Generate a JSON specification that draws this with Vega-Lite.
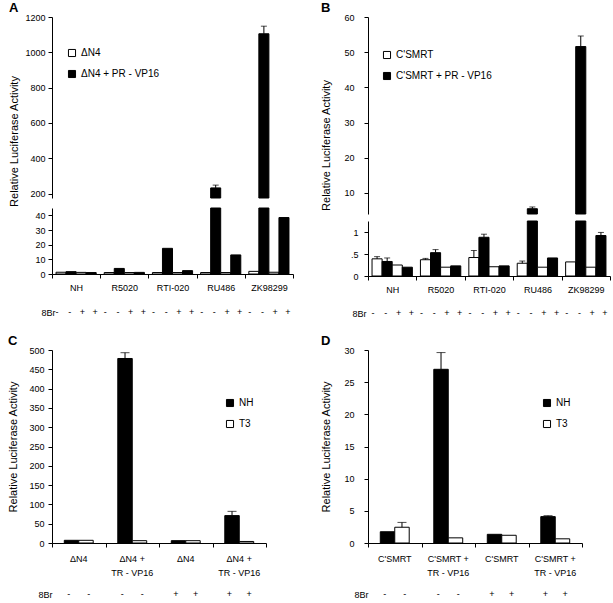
{
  "$schema": "https://vega.github.io/schema/vega-lite/v6.json",
  "padding": {"left": 7, "top": 2, "right": 0, "bottom": 0},
  "config": {
    "font": "Liberation Sans",
    "view": {"stroke": null},
    "axis": {"domainColor": "black", "tickColor": "black", "labelColor": "black", "titleColor": "black", "labelFontSize": 9, "titleFontSize": 11, "titleFontWeight": "normal", "grid": false, "tickSize": 4, "labelPadding": 3, "labelOverlap": false},
    "legend": {"labelFontSize": 10, "symbolType": "square", "symbolSize": 50, "symbolStrokeColor": "black", "symbolStrokeWidth": 1, "rowPadding": 9, "labelColor": "black"},
    "title": {"color": "black", "fontSize": 13, "fontWeight": "bold", "anchor": "start", "frame": "bounds", "offset": -2}
  },
  "datasets": {
    "A": [
      {"group": "NH", "sub": 1, "series": "ΔN4", "br": "-", "value": 1.2},
      {"group": "NH", "sub": 2, "series": "ΔN4 + PR - VP16", "br": "-", "value": 1.6},
      {"group": "NH", "sub": 3, "series": "ΔN4", "br": "+", "value": 1.1},
      {"group": "NH", "sub": 4, "series": "ΔN4 + PR - VP16", "br": "+", "value": 1.0},
      {"group": "R5020", "sub": 1, "series": "ΔN4", "br": "-", "value": 1.0},
      {"group": "R5020", "sub": 2, "series": "ΔN4 + PR - VP16", "br": "-", "value": 3.8},
      {"group": "R5020", "sub": 3, "series": "ΔN4", "br": "+", "value": 1.0},
      {"group": "R5020", "sub": 4, "series": "ΔN4 + PR - VP16", "br": "+", "value": 1.1},
      {"group": "RTI-020", "sub": 1, "series": "ΔN4", "br": "-", "value": 1.0},
      {"group": "RTI-020", "sub": 2, "series": "ΔN4 + PR - VP16", "br": "-", "value": 17.5},
      {"group": "RTI-020", "sub": 3, "series": "ΔN4", "br": "+", "value": 1.0},
      {"group": "RTI-020", "sub": 4, "series": "ΔN4 + PR - VP16", "br": "+", "value": 2.3},
      {"group": "RU486", "sub": 1, "series": "ΔN4", "br": "-", "value": 1.0},
      {"group": "RU486", "sub": 2, "series": "ΔN4 + PR - VP16", "br": "-", "value": 232, "hi": 248},
      {"group": "RU486", "sub": 3, "series": "ΔN4", "br": "+", "value": 1.0},
      {"group": "RU486", "sub": 4, "series": "ΔN4 + PR - VP16", "br": "+", "value": 13},
      {"group": "ZK98299", "sub": 1, "series": "ΔN4", "br": "-", "value": 1.8},
      {"group": "ZK98299", "sub": 2, "series": "ΔN4 + PR - VP16", "br": "-", "value": 1105, "hi": 1148},
      {"group": "ZK98299", "sub": 3, "series": "ΔN4", "br": "+", "value": 1.2},
      {"group": "ZK98299", "sub": 4, "series": "ΔN4 + PR - VP16", "br": "+", "value": 38.5}
    ],
    "B": [
      {"group": "NH", "sub": 1, "series": "C'SMRT", "br": "-", "value": 0.39, "hi": 0.44},
      {"group": "NH", "sub": 2, "series": "C'SMRT + PR - VP16", "br": "-", "value": 0.33, "hi": 0.41},
      {"group": "NH", "sub": 3, "series": "C'SMRT", "br": "+", "value": 0.25},
      {"group": "NH", "sub": 4, "series": "C'SMRT + PR - VP16", "br": "+", "value": 0.2},
      {"group": "R5020", "sub": 1, "series": "C'SMRT", "br": "-", "value": 0.37, "hi": 0.4},
      {"group": "R5020", "sub": 2, "series": "C'SMRT + PR - VP16", "br": "-", "value": 0.53, "hi": 0.6},
      {"group": "R5020", "sub": 3, "series": "C'SMRT", "br": "+", "value": 0.2},
      {"group": "R5020", "sub": 4, "series": "C'SMRT + PR - VP16", "br": "+", "value": 0.23},
      {"group": "RTI-020", "sub": 1, "series": "C'SMRT", "br": "-", "value": 0.42, "hi": 0.58},
      {"group": "RTI-020", "sub": 2, "series": "C'SMRT + PR - VP16", "br": "-", "value": 0.88, "hi": 0.95},
      {"group": "RTI-020", "sub": 3, "series": "C'SMRT", "br": "+", "value": 0.21},
      {"group": "RTI-020", "sub": 4, "series": "C'SMRT + PR - VP16", "br": "+", "value": 0.23},
      {"group": "RU486", "sub": 1, "series": "C'SMRT", "br": "-", "value": 0.29, "hi": 0.34},
      {"group": "RU486", "sub": 2, "series": "C'SMRT + PR - VP16", "br": "-", "value": 5.5, "hi": 6.0},
      {"group": "RU486", "sub": 3, "series": "C'SMRT", "br": "+", "value": 0.2},
      {"group": "RU486", "sub": 4, "series": "C'SMRT + PR - VP16", "br": "+", "value": 0.41},
      {"group": "ZK98299", "sub": 1, "series": "C'SMRT", "br": "-", "value": 0.32},
      {"group": "ZK98299", "sub": 2, "series": "C'SMRT + PR - VP16", "br": "-", "value": 51.6, "hi": 54.6},
      {"group": "ZK98299", "sub": 3, "series": "C'SMRT", "br": "+", "value": 0.2},
      {"group": "ZK98299", "sub": 4, "series": "C'SMRT + PR - VP16", "br": "+", "value": 0.92, "hi": 0.99}
    ],
    "C": [
      {"group": "a", "sub": 1, "series": "NH", "br": "-", "value": 7},
      {"group": "a", "sub": 2, "series": "T3", "br": "-", "value": 7},
      {"group": "b", "sub": 1, "series": "NH", "br": "-", "value": 478, "hi": 493},
      {"group": "b", "sub": 2, "series": "T3", "br": "-", "value": 6},
      {"group": "c", "sub": 1, "series": "NH", "br": "+", "value": 6},
      {"group": "c", "sub": 2, "series": "T3", "br": "+", "value": 6},
      {"group": "d", "sub": 1, "series": "NH", "br": "+", "value": 71, "hi": 82},
      {"group": "d", "sub": 2, "series": "T3", "br": "+", "value": 4}
    ],
    "CL": [
      {"group": "a", "row": "l1", "text": "ΔN4"},
      {"group": "b", "row": "l1", "text": "ΔN4 +"},
      {"group": "b", "row": "l2", "text": "TR - VP16"},
      {"group": "c", "row": "l1", "text": "ΔN4"},
      {"group": "d", "row": "l1", "text": "ΔN4 +"},
      {"group": "d", "row": "l2", "text": "TR - VP16"}
    ],
    "D": [
      {"group": "a", "sub": 1, "series": "NH", "br": "-", "value": 1.75},
      {"group": "a", "sub": 2, "series": "T3", "br": "-", "value": 2.45, "hi": 3.2},
      {"group": "b", "sub": 1, "series": "NH", "br": "-", "value": 27.0, "hi": 29.6},
      {"group": "b", "sub": 2, "series": "T3", "br": "-", "value": 0.8},
      {"group": "c", "sub": 1, "series": "NH", "br": "+", "value": 1.35},
      {"group": "c", "sub": 2, "series": "T3", "br": "+", "value": 1.2},
      {"group": "d", "sub": 1, "series": "NH", "br": "+", "value": 4.1, "hi": 4.25},
      {"group": "d", "sub": 2, "series": "T3", "br": "+", "value": 0.65}
    ],
    "DL": [
      {"group": "a", "row": "l1", "text": "C'SMRT"},
      {"group": "b", "row": "l1", "text": "C'SMRT +"},
      {"group": "b", "row": "l2", "text": "TR - VP16"},
      {"group": "c", "row": "l1", "text": "C'SMRT"},
      {"group": "d", "row": "l1", "text": "C'SMRT +"},
      {"group": "d", "row": "l2", "text": "TR - VP16"}
    ]
  },
  "resolve": {"scale": {"x": "independent", "y": "independent", "color": "independent", "xOffset": "independent"}},
  "spacing": 17,
  "vconcat": [
    {
      "resolve": {"scale": {"x": "independent", "y": "independent", "color": "independent", "xOffset": "independent"}},
      "spacing": 26,
      "hconcat": [
        {
          "resolve": {"scale": {"x": "independent", "y": "independent", "color": "independent", "xOffset": "independent"}},
          "spacing": 15,
          "vconcat": [
            {
              "resolve": {"scale": {"x": "independent", "y": "independent", "color": "independent", "xOffset": "independent"}},
              "spacing": 0,
              "vconcat": [
                {
                  "width": 241, "height": 181,
                  "title": {"text": "A"},
                  "data": {"name": "A"},
                  "transform": [{"filter": "datum.value > 175"}],
                  "encoding": {
                    "x": {"field": "group", "type": "nominal", "sort": null, "scale": {"domain": ["NH", "R5020", "RTI-020", "RU486", "ZK98299"], "paddingInner": 0, "paddingOuter": 0}, "axis": null},
                    "xOffset": {"field": "sub", "type": "nominal", "scale": {"domain": [1, 2, 3, 4], "paddingInner": 0, "paddingOuter": 0.4}},
                    "y": {"field": "value", "type": "quantitative", "scale": {"domain": [175, 1200], "clamp": true, "nice": false, "zero": false}, "axis": {"values": [200, 400, 600, 800, 1000, 1200], "format": "d", "labelOverlap": false, "title": "Relative Luciferase Activity", "titleY": 124, "titlePadding": 5}}
                  },
                  "layer": [
                    {
                      "mark": {"type": "bar", "stroke": "black", "strokeWidth": 1},
                      "encoding": {
                        "color": {"field": "series", "type": "nominal", "scale": {"domain": ["ΔN4", "ΔN4 + PR - VP16"], "range": ["white", "black"]}, "legend": {"orient": "none", "legendX": 15, "legendY": 31, "title": null}}
                      }
                    },
                    {
                      "transform": [{"filter": "datum.hi != null"}],
                      "mark": {"type": "rule", "color": "black", "strokeWidth": 1},
                      "encoding": {"y2": {"field": "hi"}}
                    },
                    {
                      "transform": [{"filter": "datum.hi != null"}],
                      "mark": {"type": "tick", "color": "black", "thickness": 1, "size": 6},
                      "encoding": {"y": {"field": "hi", "type": "quantitative", "scale": {"domain": [175, 1200], "clamp": true, "nice": false, "zero": false}, "axis": {"values": [200, 400, 600, 800, 1000, 1200], "format": "d", "labelOverlap": false, "title": "Relative Luciferase Activity", "titleY": 124, "titlePadding": 5}}}
                    }
                  ]
                },
                {
                  "width": 241, "height": 66,
                  "data": {"name": "A"},
                  "encoding": {
                    "x": {"field": "group", "type": "nominal", "sort": null, "scale": {"domain": ["NH", "R5020", "RTI-020", "RU486", "ZK98299"], "paddingInner": 0, "paddingOuter": 0}, "axis": {"title": null, "labelAngle": 0, "tickBand": "extent", "labelPadding": 5}},
                    "xOffset": {"field": "sub", "type": "nominal", "scale": {"domain": [1, 2, 3, 4], "paddingInner": 0, "paddingOuter": 0.4}}
                  },
                  "layer": [
                    {
                      "mark": {"type": "bar", "stroke": "black", "strokeWidth": 1},
                      "encoding": {
                        "y": {"field": "value", "type": "quantitative", "scale": {"domain": [0, 45], "clamp": true, "nice": false}, "axis": {"values": [0, 10, 20, 30, 40], "labelOverlap": false, "title": null}},
                        "color": {"field": "series", "type": "nominal", "scale": {"domain": ["ΔN4", "ΔN4 + PR - VP16"], "range": ["white", "black"]}, "legend": null}
                      }
                    }
                  ]
                }
              ]
            },
            {
              "width": 241, "height": 10,
              "data": {"name": "A"},
              "mark": {"type": "text", "fontSize": 9, "color": "black"},
              "encoding": {
                "x": {"field": "group", "type": "nominal", "sort": null, "scale": {"type": "band", "domain": ["NH", "R5020", "RTI-020", "RU486", "ZK98299"], "paddingInner": 0, "paddingOuter": 0}, "axis": null},
                "xOffset": {"field": "sub", "type": "nominal", "scale": {"domain": [1, 2, 3, 4], "paddingInner": 0, "paddingOuter": 0.4}},
                "y": {"datum": "8Br", "type": "nominal", "axis": {"title": null, "domain": false, "ticks": false, "labelPadding": -3, "labelFontSize": 9}},
                "text": {"field": "br"}
              }
            }
          ]
        },
        {
          "resolve": {"scale": {"x": "independent", "y": "independent", "color": "independent", "xOffset": "independent"}},
          "spacing": 14,
          "vconcat": [
            {
              "resolve": {"scale": {"x": "independent", "y": "independent", "color": "independent", "xOffset": "independent"}},
              "spacing": 5,
              "vconcat": [
                {
                  "width": 242, "height": 197,
                  "title": {"text": "B"},
                  "data": {"name": "B"},
                  "transform": [{"filter": "datum.value > 4"}],
                  "encoding": {
                    "x": {"field": "group", "type": "nominal", "sort": null, "scale": {"domain": ["NH", "R5020", "RTI-020", "RU486", "ZK98299"], "paddingInner": 0, "paddingOuter": 0}, "axis": null},
                    "xOffset": {"field": "sub", "type": "nominal", "scale": {"domain": [1, 2, 3, 4], "paddingInner": 0, "paddingOuter": 0.4}},
                    "y": {"field": "value", "type": "quantitative", "scale": {"domain": [4, 60], "clamp": true, "nice": false, "zero": false}, "axis": {"values": [10, 20, 30, 40, 50, 60], "labelOverlap": false, "title": "Relative Luciferase Activity", "titleY": 128, "labelPadding": 10, "titlePadding": 12}}
                  },
                  "layer": [
                    {
                      "mark": {"type": "bar", "stroke": "black", "strokeWidth": 1},
                      "encoding": {
                        "color": {"field": "series", "type": "nominal", "scale": {"domain": ["C'SMRT", "C'SMRT + PR - VP16"], "range": ["white", "black"]}, "legend": {"orient": "none", "legendX": 14, "legendY": 33, "title": null}}
                      }
                    },
                    {
                      "transform": [{"filter": "datum.hi != null"}],
                      "mark": {"type": "rule", "color": "black", "strokeWidth": 1},
                      "encoding": {"y2": {"field": "hi"}}
                    },
                    {
                      "transform": [{"filter": "datum.hi != null"}],
                      "mark": {"type": "tick", "color": "black", "thickness": 1, "size": 6},
                      "encoding": {"y": {"field": "hi", "type": "quantitative", "scale": {"domain": [4, 60], "clamp": true, "nice": false, "zero": false}, "axis": {"values": [10, 20, 30, 40, 50, 60], "labelOverlap": false, "title": "Relative Luciferase Activity", "titleY": 128, "labelPadding": 10, "titlePadding": 12}}}
                    }
                  ]
                },
                {
                  "width": 242, "height": 55,
                  "data": {"name": "B"},
                  "encoding": {
                    "x": {"field": "group", "type": "nominal", "sort": null, "scale": {"domain": ["NH", "R5020", "RTI-020", "RU486", "ZK98299"], "paddingInner": 0, "paddingOuter": 0}, "axis": {"title": null, "labelAngle": 0, "tickBand": "extent", "labelPadding": 5}},
                    "xOffset": {"field": "sub", "type": "nominal", "scale": {"domain": [1, 2, 3, 4], "paddingInner": 0, "paddingOuter": 0.4}},
                    "y": {"field": "value", "type": "quantitative", "scale": {"domain": [0, 1.25], "clamp": true, "nice": false}, "axis": {"values": [0, 0.5, 1], "labelOverlap": false, "title": null, "labelExpr": "datum.value == 0.5 ? '.5' : toString(datum.value)", "labelPadding": 6}}
                  },
                  "layer": [
                    {
                      "mark": {"type": "bar", "stroke": "black", "strokeWidth": 1},
                      "encoding": {
                        "color": {"field": "series", "type": "nominal", "scale": {"domain": ["C'SMRT", "C'SMRT + PR - VP16"], "range": ["white", "black"]}, "legend": null}
                      }
                    },
                    {
                      "transform": [{"filter": "datum.hi != null && datum.hi < 1.25"}],
                      "mark": {"type": "rule", "color": "black", "strokeWidth": 1},
                      "encoding": {"y2": {"field": "hi"}}
                    },
                    {
                      "transform": [{"filter": "datum.hi != null && datum.hi < 1.25"}],
                      "mark": {"type": "tick", "color": "black", "thickness": 1, "size": 6},
                      "encoding": {"y": {"field": "hi", "type": "quantitative", "scale": {"domain": [0, 1.25], "clamp": true, "nice": false}, "axis": {"values": [0, 0.5, 1], "labelOverlap": false, "title": null, "labelExpr": "datum.value == 0.5 ? '.5' : toString(datum.value)", "labelPadding": 6}}}
                    }
                  ]
                }
              ]
            },
            {
              "width": 242, "height": 10,
              "data": {"name": "B"},
              "mark": {"type": "text", "fontSize": 9, "color": "black"},
              "encoding": {
                "x": {"field": "group", "type": "nominal", "sort": null, "scale": {"type": "band", "domain": ["NH", "R5020", "RTI-020", "RU486", "ZK98299"], "paddingInner": 0, "paddingOuter": 0}, "axis": null},
                "xOffset": {"field": "sub", "type": "nominal", "scale": {"domain": [1, 2, 3, 4], "paddingInner": 0, "paddingOuter": 0.4}},
                "y": {"datum": "8Br", "type": "nominal", "axis": {"title": null, "domain": false, "ticks": false, "labelPadding": 2, "labelFontSize": 9}},
                "text": {"field": "br"}
              }
            }
          ]
        }
      ]
    },
    {
      "resolve": {"scale": {"x": "independent", "y": "independent", "color": "independent", "xOffset": "independent"}},
      "spacing": 53,
      "hconcat": [
        {
          "resolve": {"scale": {"x": "independent", "y": "independent", "color": "independent", "xOffset": "independent"}},
          "spacing": 6,
          "vconcat": [
            {
              "width": 214, "height": 193,
              "title": {"text": "C"},
              "data": {"name": "C"},
              "encoding": {
                "x": {"field": "group", "type": "nominal", "sort": null, "scale": {"domain": ["a", "b", "c", "d"], "paddingInner": 0, "paddingOuter": 0}, "axis": {"title": null, "labels": false, "tickBand": "extent"}},
                "xOffset": {"field": "sub", "type": "nominal", "scale": {"domain": [1, 2], "paddingInner": 0, "paddingOuter": 0.85}},
                "y": {"field": "value", "type": "quantitative", "scale": {"domain": [0, 500], "nice": false}, "axis": {"values": [0, 50, 100, 150, 200, 250, 300, 350, 400, 450, 500], "labelOverlap": false, "title": "Relative Luciferase Activity", "titlePadding": 10, "labelPadding": 4}}
              },
              "layer": [
                {
                  "mark": {"type": "bar", "stroke": "black", "strokeWidth": 1},
                  "encoding": {
                    "color": {"field": "series", "type": "nominal", "scale": {"domain": ["NH", "T3"], "range": ["black", "white"]}, "legend": {"orient": "none", "legendX": 173, "legendY": 48, "title": null}}
                  }
                },
                {
                  "transform": [{"filter": "datum.hi != null"}],
                  "mark": {"type": "rule", "color": "black", "strokeWidth": 1},
                  "encoding": {"y2": {"field": "hi"}}
                },
                {
                  "transform": [{"filter": "datum.hi != null"}],
                  "mark": {"type": "tick", "color": "black", "thickness": 1, "size": 9},
                  "encoding": {"y": {"field": "hi", "type": "quantitative", "scale": {"domain": [0, 500], "nice": false}, "axis": {"values": [0, 50, 100, 150, 200, 250, 300, 350, 400, 450, 500], "labelOverlap": false, "title": "Relative Luciferase Activity", "titlePadding": 10, "labelPadding": 4}}}
                }
              ]
            },
            {
              "width": 214, "height": 43,
              "layer": [
                {
                  "data": {"name": "CL"},
                  "mark": {"type": "text", "fontSize": 9, "color": "black"},
                  "encoding": {
                    "x": {"field": "group", "type": "nominal", "sort": null, "scale": {"type": "band", "domain": ["a", "b", "c", "d"], "paddingInner": 0, "paddingOuter": 0}, "axis": null},
                    "y": {"field": "row", "type": "nominal", "scale": {"domain": ["l1", "s1", "l2", "s2", "s3", "8Br"]}, "axis": {"title": null, "domain": false, "ticks": false, "labelPadding": 0, "labelFontSize": 9, "labelOverlap": false, "labelExpr": "datum.value == '8Br' ? '8Br' : ''"}},
                    "text": {"field": "text"}
                  }
                },
                {
                  "data": {"name": "C"},
                  "mark": {"type": "text", "fontSize": 9, "color": "black"},
                  "encoding": {
                    "x": {"field": "group", "type": "nominal", "sort": null, "scale": {"type": "band", "domain": ["a", "b", "c", "d"], "paddingInner": 0, "paddingOuter": 0}, "axis": null},
                    "xOffset": {"field": "sub", "type": "nominal", "scale": {"domain": [1, 2], "paddingInner": 0, "paddingOuter": 0.85}},
                    "y": {"datum": "8Br", "type": "nominal"},
                    "text": {"field": "br"}
                  }
                }
              ]
            }
          ]
        },
        {
          "resolve": {"scale": {"x": "independent", "y": "independent", "color": "independent", "xOffset": "independent"}},
          "spacing": 6,
          "vconcat": [
            {
              "width": 214, "height": 193,
              "title": {"text": "D"},
              "data": {"name": "D"},
              "encoding": {
                "x": {"field": "group", "type": "nominal", "sort": null, "scale": {"domain": ["a", "b", "c", "d"], "paddingInner": 0, "paddingOuter": 0}, "axis": {"title": null, "labels": false, "tickBand": "extent"}},
                "xOffset": {"field": "sub", "type": "nominal", "scale": {"domain": [1, 2], "paddingInner": 0, "paddingOuter": 0.85}},
                "y": {"field": "value", "type": "quantitative", "scale": {"domain": [0, 30], "nice": false}, "axis": {"values": [0, 5, 10, 15, 20, 25, 30], "labelOverlap": false, "title": "Relative Luciferase Activity", "titlePadding": 12, "labelPadding": 10}}
              },
              "layer": [
                {
                  "mark": {"type": "bar", "stroke": "black", "strokeWidth": 1},
                  "encoding": {
                    "color": {"field": "series", "type": "nominal", "scale": {"domain": ["NH", "T3"], "range": ["black", "white"]}, "legend": {"orient": "none", "legendX": 174, "legendY": 48, "title": null}}
                  }
                },
                {
                  "transform": [{"filter": "datum.hi != null"}],
                  "mark": {"type": "rule", "color": "black", "strokeWidth": 1},
                  "encoding": {"y2": {"field": "hi"}}
                },
                {
                  "transform": [{"filter": "datum.hi != null"}],
                  "mark": {"type": "tick", "color": "black", "thickness": 1, "size": 9},
                  "encoding": {"y": {"field": "hi", "type": "quantitative", "scale": {"domain": [0, 30], "nice": false}, "axis": {"values": [0, 5, 10, 15, 20, 25, 30], "labelOverlap": false, "title": "Relative Luciferase Activity", "titlePadding": 12, "labelPadding": 10}}}
                }
              ]
            },
            {
              "width": 214, "height": 43,
              "layer": [
                {
                  "data": {"name": "DL"},
                  "mark": {"type": "text", "fontSize": 9, "color": "black"},
                  "encoding": {
                    "x": {"field": "group", "type": "nominal", "sort": null, "scale": {"type": "band", "domain": ["a", "b", "c", "d"], "paddingInner": 0, "paddingOuter": 0}, "axis": null},
                    "y": {"field": "row", "type": "nominal", "scale": {"domain": ["l1", "s1", "l2", "s2", "s3", "8Br"]}, "axis": {"title": null, "domain": false, "ticks": false, "labelPadding": 0, "labelFontSize": 9, "labelOverlap": false, "labelExpr": "datum.value == '8Br' ? '8Br' : ''"}},
                    "text": {"field": "text"}
                  }
                },
                {
                  "data": {"name": "D"},
                  "mark": {"type": "text", "fontSize": 9, "color": "black"},
                  "encoding": {
                    "x": {"field": "group", "type": "nominal", "sort": null, "scale": {"type": "band", "domain": ["a", "b", "c", "d"], "paddingInner": 0, "paddingOuter": 0}, "axis": null},
                    "xOffset": {"field": "sub", "type": "nominal", "scale": {"domain": [1, 2], "paddingInner": 0, "paddingOuter": 0.85}},
                    "y": {"datum": "8Br", "type": "nominal"},
                    "text": {"field": "br"}
                  }
                }
              ]
            }
          ]
        }
      ]
    }
  ]
}
